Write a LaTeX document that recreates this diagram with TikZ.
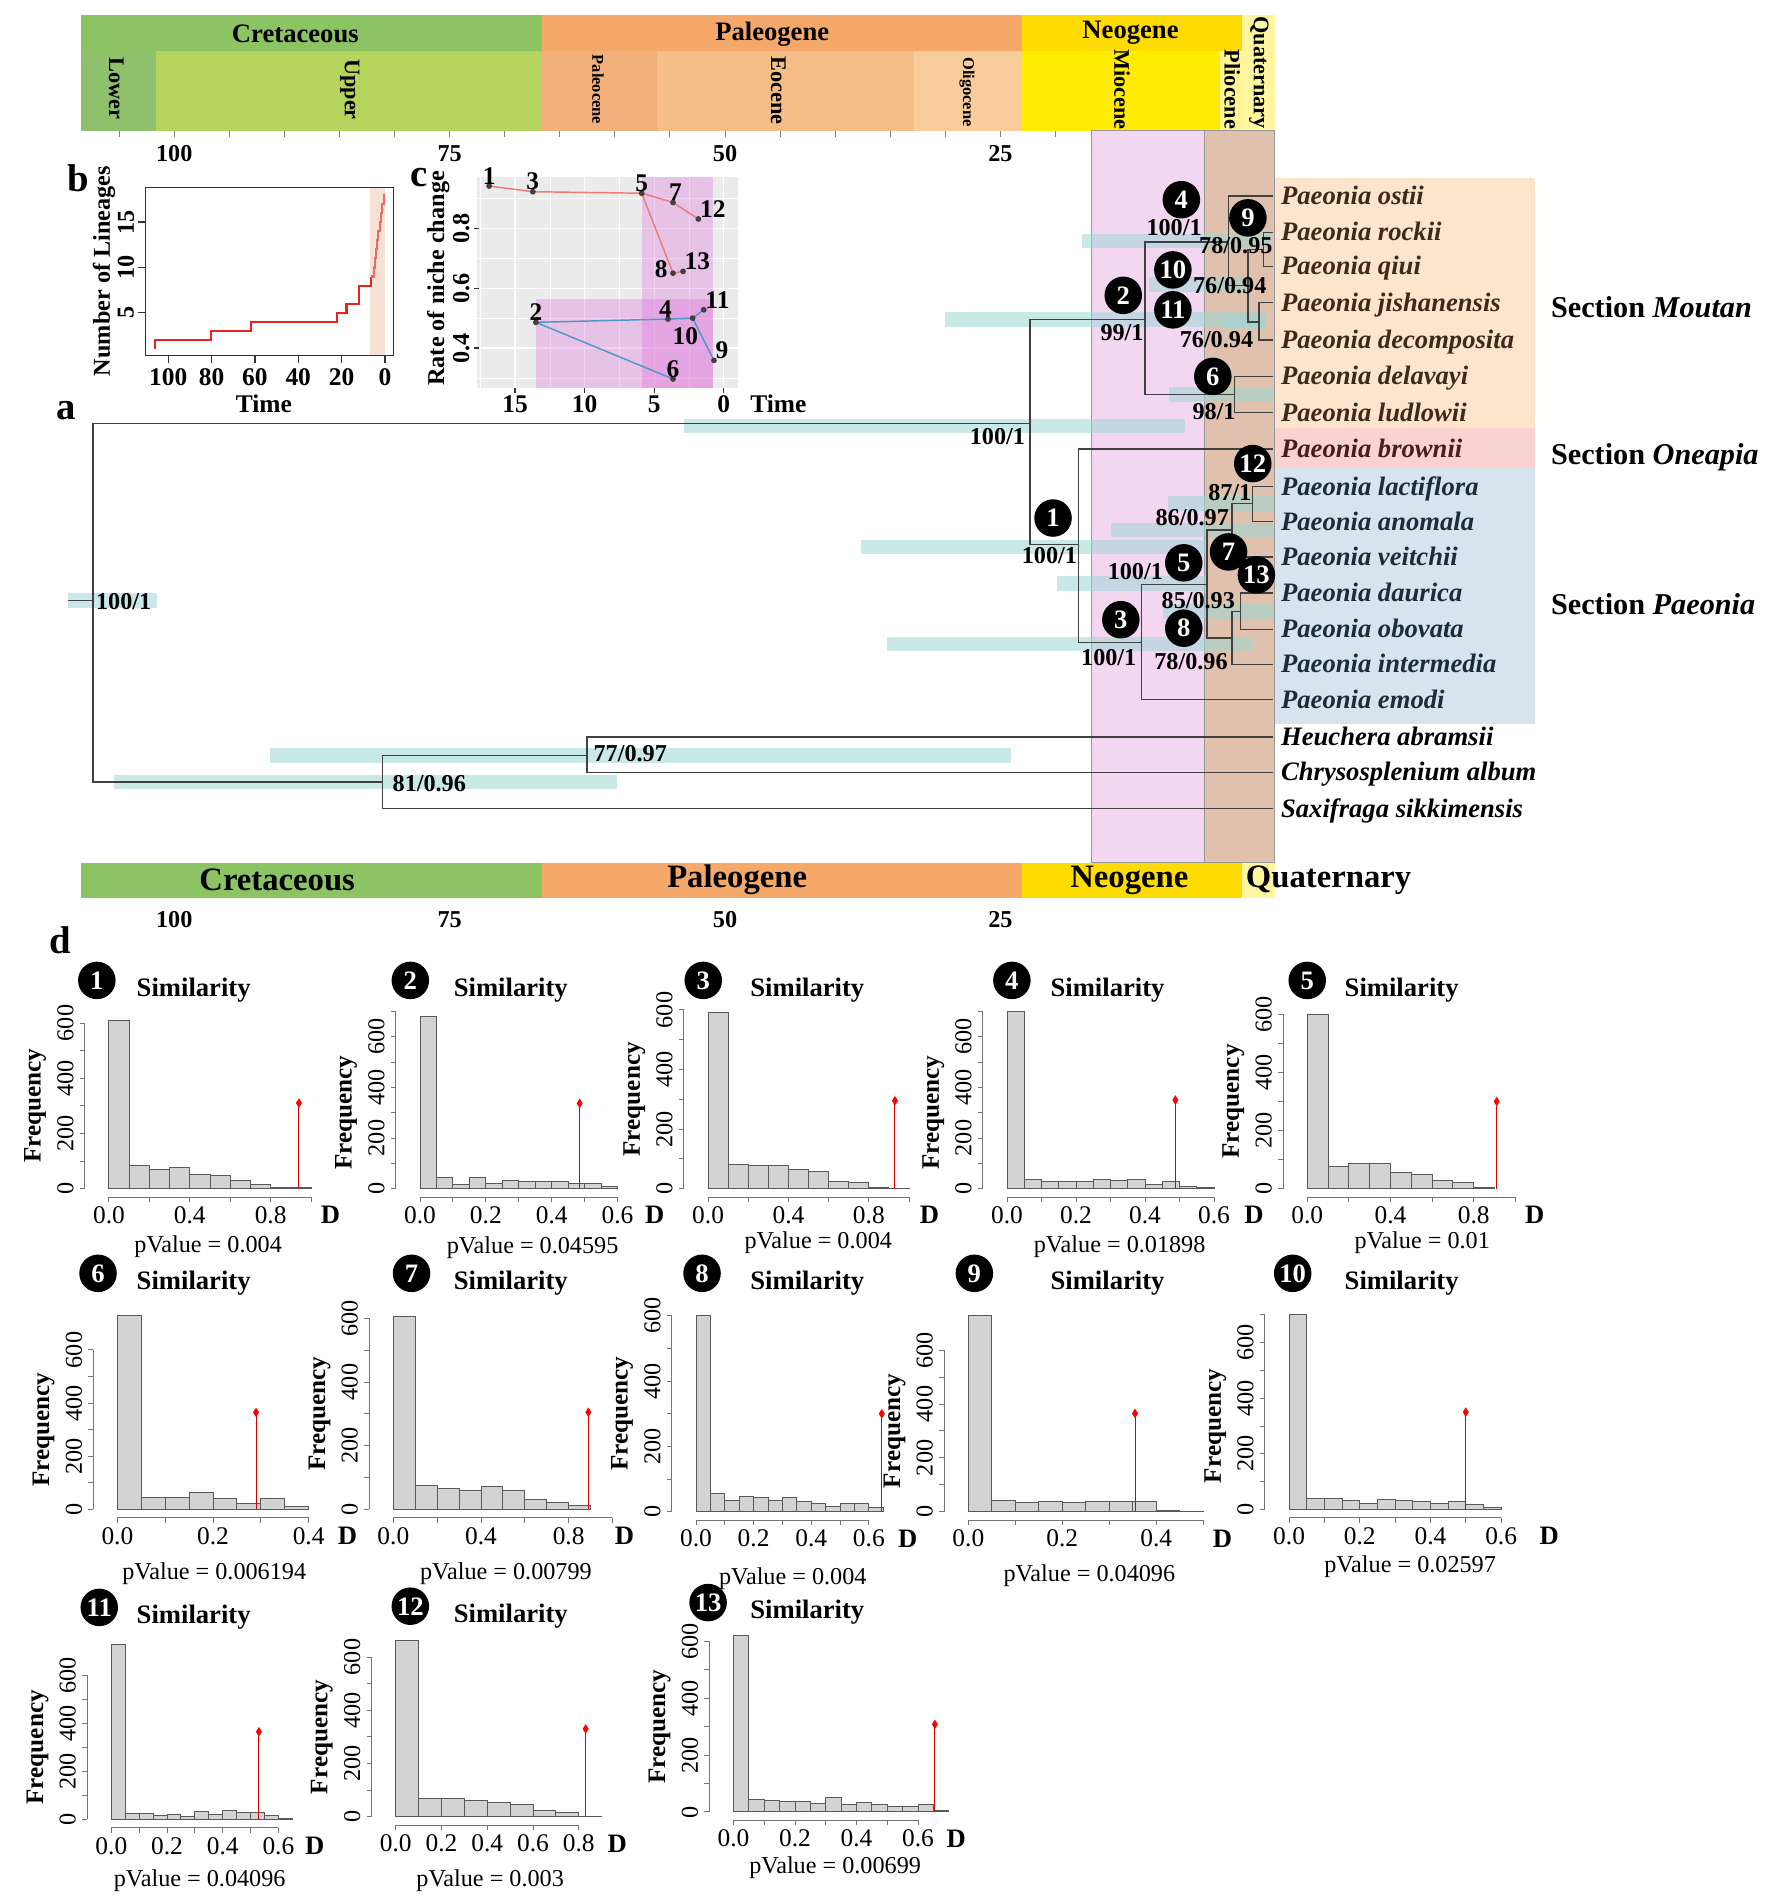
\documentclass[tikz,border=0pt]{standalone}
\usepackage{fontspec}
\setmainfont{Liberation Serif}
\usetikzlibrary{calc}

\newcommand\fsz[1]{\fontsize{#1}{#1}\selectfont}

% colours of the time scale
\definecolor{cretP}{HTML}{8CC463}
\definecolor{cretL}{HTML}{8FC16C}
\definecolor{cretU}{HTML}{B5D45E}
\definecolor{paleoP}{HTML}{F4A86A}
\definecolor{paleoA}{HTML}{F4B07A}
\definecolor{paleoB}{HTML}{F6BE87}
\definecolor{paleoC}{HTML}{F8CD9B}
\definecolor{neoP}{HTML}{FFDC00}
\definecolor{neoA}{HTML}{FFEC00}
\definecolor{neoB}{HTML}{FFF596}
\definecolor{quatP}{HTML}{FFF7A0}
% tree colours
\definecolor{mioband}{HTML}{F3D6F0}
\definecolor{plioband}{HTML}{E0C1AD}
\definecolor{moutanbg}{HTML}{FDE4CD}
\definecolor{oneapiabg}{HTML}{FAD2D2}
\definecolor{paeoniabg}{HTML}{D7E4EE}
\definecolor{moutantx}{HTML}{3E2A1A}
\definecolor{oneapiatx}{HTML}{4A1C1C}
\definecolor{paeoniatx}{HTML}{1C2C3C}
\definecolor{hpd}{HTML}{9ED6D6}
% insets
\definecolor{ltt}{HTML}{E8231C}
\definecolor{lttlight}{HTML}{EE6A5F}
\definecolor{lttshade}{HTML}{F5E1D6}
\definecolor{ggpanel}{HTML}{EBEBEB}
\definecolor{redline}{HTML}{F07A74}
\definecolor{blueline}{HTML}{4F97C6}
\definecolor{nicheshade}{HTML}{DC64DC}
\definecolor{histgray}{HTML}{D3D3D3}

\tikzset{
  perlbl/.style={font=\bfseries\fsz{11}, inner sep=0pt},
  perbig/.style={font=\bfseries\fsz{13.5}, inner sep=0pt},
  epoch/.style={font=\bfseries\fsz{9.2}, rotate=-90, inner sep=0pt},
  epochsm/.style={font=\bfseries\fsz{6.8}, rotate=-90, inner sep=0pt},
  agelbl/.style={font=\bfseries\fsz{10}, inner sep=0pt},
  agetick/.style={draw=black!50, line width=0.4pt},
  band/.style={draw=black!40, line width=0.5pt},
  branch/.style={draw=black!75, line width=0.6pt},
  hpdbar/.style={fill=hpd, fill opacity=0.55},
  bslbl/.style={font=\bfseries\fsz{10}, inner sep=0pt},
  numdot/.style={circle, fill=black, text=white, font=\bfseries\fsz{11}, inner sep=0pt, minimum size=15.5pt},
  taxon/.style={font=\bfseries\itshape\fsz{11}, anchor=base west, inner sep=0pt},
  sectlbl/.style={font=\bfseries\fsz{12.5}, anchor=base west, inner sep=0pt},
  plbl/.style={font=\bfseries\fsz{16}, inner sep=0pt},
  insetlbl/.style={font=\bfseries\fsz{10.5}, inner sep=0pt},
  insetrot/.style={font=\bfseries\fsz{10}, rotate=90, inner sep=0pt},
  framepen/.style={draw=black!80, line width=0.5pt},
  lttcurve/.style={draw=ltt, line width=0.9pt},
  gridmajor/.style={draw=white, line width=0.55pt},
  gridminor/.style={draw=white, line width=0.25pt},
  redniche/.style={draw=redline, line width=0.6pt},
  blueniche/.style={draw=blueline, line width=0.6pt},
  ptlbl/.style={font=\bfseries\fsz{10.5}, inner sep=0.5pt},
  histbar/.style={fill=histgray, draw=black!65, line width=0.4pt},
  histaxis/.style={draw=black!55, line width=0.4pt},
  obsline/.style={draw=red!85!black, line width=0.4pt},
  obsred/.style={fill=red},
  simtitle/.style={font=\bfseries\fsz{11}, inner sep=0pt},
  pval/.style={font=\fsz{10}, inner sep=0pt},
  ticklbl/.style={font=\fsz{10.5}, inner sep=0pt},
  dlbl/.style={font=\bfseries\fsz{11}, inner sep=0pt},
  freqlbl/.style={font=\bfseries\fsz{10.4}, rotate=90, inner sep=0pt},
  freqnum/.style={font=\fsz{10}, rotate=90, inner sep=0pt},
}

% heading of one histogram: number, dot x, title y, title x, p x, p y, p value
\newcommand\histhead[7]{%
  \xdef\hid{#1}%
  \node[numdot] (hd#1) at (#2,{#3-8}) {#1};
  \node[simtitle] (st#1) at (#4,#3) {Similarity};
  \node[pval] (pv#1) at (#5,#6) {pValue = #7};
}
% bars: x0, y0, x per unit D, y per count, bin width, counts, observed D, its height
\newcommand\histbars[8]{%
  \foreach \hh [count=\ii from 0] in {#6}
    \draw[histbar] ({#1+\ii*#5*#3},#2) rectangle ({#1+(\ii+1)*#5*#3},{#2-\hh*#4});
  \draw[obsline] ({#1+#7*#3},#2) -- ({#1+#7*#3},{#2-#8*#4});
  \fill[obsred] ({#1+#7*#3},{#2-#8*#4-4}) -- ++(2.5,4) -- ++(-2.5,4) -- ++(-2.5,-4) -- cycle;
}
% axes: [top count] x0, y0, x per unit D, y per count, D max, tick step, tick labels, x of D
\newcommand\histaxes[9][600]{%
  \pgfmathtruncatemacro\ntk{round(#6/#7)}%
  \pgfmathtruncatemacro\nyt{#1/100}%
  \draw[histaxis] (#2,{#3+7}) -- ({#2+#6*#4},{#3+7});
  \foreach \kk in {0,...,\ntk} \draw[histaxis] ({#2+\kk*#7*#4},{#3+7}) -- ++(0,4);
  \foreach \lab [count=\jj] in {#8} \node[ticklbl] (xt\hid-\jj) at ({#2+\lab*#4},{#3+22}) {\lab};
  \draw[histaxis] ({#2-20},#3) -- ({#2-20},{#3-#1*#5});
  \foreach \kk in {0,...,\nyt} \draw[histaxis] ({#2-20},{#3-\kk*100*#5}) -- ++(-4,0);
  \foreach \cnt in {0,200,400,600} \node[freqnum] (yt\hid-\cnt) at ({#2-36},{#3-\cnt*#5}) {\cnt};
  \node[dlbl] (dl\hid) at (#9,{#3+22}) {D};
  \node[freqlbl] (fq\hid) at ({#2-61},{#3-300*#5}) {Frequency};
}

\begin{document}
\begin{tikzpicture}[x=0.5pt,y=-0.5pt]
\useasboundingbox (0,0) rectangle (1464,1571.4);
\fill[white] (0,0) rectangle (1464,1571.4);

% ---------- time scale, top
\fill[cretP] (67,12) rectangle (448,42);
\fill[paleoP] (448,12) rectangle (844,42);
\fill[neoP] (844,12) rectangle (1026,42);
\fill[cretL] (67,42) rectangle (128.6,108);
\fill[cretU] (128.6,42) rectangle (448,108);
\fill[paleoA] (448,42) rectangle (543,108);
\fill[paleoB] (543,42) rectangle (755,108);
\fill[paleoC] (755,42) rectangle (844,108);
\fill[neoA] (844,42) rectangle (1008,108);
\fill[neoB] (1008,42) rectangle (1026,108);
\fill[quatP] (1026,12) rectangle (1053,108);
\node[perlbl] (cretT) at (244,28) {Cretaceous};
\node[perlbl] (paleoT) at (638,28) {Paleogene};
\node[perlbl] (neoT) at (934,27) {Neogene};
\node[epoch] (lowerT) at (96,73) {Lower};
\node[epoch] (upperT) at (289,74) {Upper};
\node[epochsm] (paleocT) at (494,74) {Paleocene};
\node[epoch] (eoceT) at (643,75) {Eocene};
\node[epochsm] (oligoT) at (799,76) {Oligocene};
\node[epoch] (mioT) at (927,74) {Miocene};
\node[epoch] (plioT) at (1018,74) {Pliocene};
\node[epoch] (quatT) at (1040,60) {Quaternary};
\foreach \tk in {20,25,...,105} \draw[agetick] ({1054-9.1*\tk},108) -- ++(0,5);
\foreach \tk in {100,75,50,25} \node[agelbl] (agt\tk) at ({1054-9.1*\tk},127) {\tk};

% ---------- shaded windows and sections
\filldraw[band, fill=mioband] (902,108) rectangle (995,713);
\filldraw[band, fill=plioband] (995,108) rectangle (1053,713);
\fill[moutanbg] (1053,147) rectangle (1268,354);
\fill[oneapiabg] (1053,354) rectangle (1268,387);
\fill[paeoniabg] (1053,387) rectangle (1268,598);

% ---------- 95% HPD bars
\foreach \xa/\xb/\yc in {56/130/496, 565/979/352, 781/1046/264, 894/1050/199,
    949/1030/235, 1010/1046/266, 966/1052/326, 711/996/452, 965/1052/416,
    918/1052/438, 873/997/482, 961/1052/505, 733/1035/532, 223/835/624, 94/510/646}
  \fill[hpdbar] ({\xa},{\yc-6}) rectangle ({\xb},{\yc+6});

% ---------- tree
\coordinate (stem) at (56,496);
\coordinate (root) at (77,496);
\coordinate (crown) at (851,350);
\coordinate (mou) at (946,264);
\coordinate (nF) at (1015,200);
\coordinate (nG) at (1031,236);
\coordinate (nH) at (1044,206);
\coordinate (nI) at (1040,266);
\coordinate (nJ) at (1020,326);
\coordinate (n1) at (891,450);
\coordinate (n3) at (943,531);
\coordinate (nA) at (997,483);
\coordinate (nB) at (1018,438);
\coordinate (nC) at (1035,416);
\coordinate (nD) at (1018,527);
\coordinate (nE) at (1025,505);
\coordinate (og1) at (316,646);
\coordinate (og2) at (485,624);

\foreach \n/\y/\nm/\cl in {
  1/162/Paeonia ostii/moutantx, 2/192/Paeonia rockii/moutantx,
  3/220/Paeonia qiui/moutantx, 4/250/Paeonia jishanensis/moutantx,
  5/281/Paeonia decomposita/moutantx, 6/311/Paeonia delavayi/moutantx,
  7/341/Paeonia ludlowii/moutantx, 8/371/Paeonia brownii/oneapiatx,
  9/402/Paeonia lactiflora/paeoniatx, 10/431/Paeonia anomala/paeoniatx,
  11/460/Paeonia veitchii/paeoniatx, 12/490/Paeonia daurica/paeoniatx,
  13/520/Paeonia obovata/paeoniatx, 14/549/Paeonia intermedia/paeoniatx,
  15/578/Paeonia emodi/paeoniatx, 16/609/Heuchera abramsii/black,
  17/638/Chrysosplenium album/black, 18/668/Saxifraga sikkimensis/black}
{
  \coordinate (t\n) at (1052,\y);
  \node[taxon, text=\cl] (sp\n) at (1058,{\y+7}) {\nm};
}

\draw[branch] (stem) -- (root);
\foreach \a/\b in {root/crown, root/og1, crown/mou, crown/n1, mou/nF, mou/nJ,
    nF/t1, nF/nG, nG/nH, nG/nI, nH/t2, nH/t3, nI/t4, nI/t5, nJ/t6, nJ/t7,
    n1/t8, n1/n3, n3/nA, n3/t15, nA/nB, nA/nD, nB/nC, nB/t11, nC/t9, nC/t10,
    nD/nE, nD/t14, nE/t12, nE/t13, og1/og2, og1/t18, og2/t16, og2/t17}
  \draw[branch] (\a) |- (\b);

% support values
\node[bslbl, anchor=west] (bsroot) at (79,497) {100/1};
\node[bslbl] (bscrown) at (824,361) {100/1};
\node[bslbl] (bsn1) at (867,459) {100/1};
\node[bslbl] (bsmou) at (927,275) {99/1};
\node[bslbl] (bsF) at (970,188) {100/1};
\node[bslbl] (bsH) at (1021,203) {78/0.95};
\node[bslbl] (bsG) at (1016,236) {76/0.94};
\node[bslbl] (bsI) at (1005,281) {76/0.94};
\node[bslbl] (bsJ) at (1003,340) {98/1};
\node[bslbl] (bsC) at (1016,407) {87/1};
\node[bslbl] (bsB) at (985,428) {86/0.97};
\node[bslbl] (bsA) at (938,472) {100/1};
\node[bslbl] (bsE) at (990,496) {85/0.93};
\node[bslbl] (bsD) at (984,547) {78/0.96};
\node[bslbl] (bs3) at (916,543) {100/1};
\node[bslbl, anchor=west] (bsog2) at (490,623) {77/0.97};
\node[bslbl, anchor=west] (bsog1) at (324,647) {81/0.96};

% node numbers
\foreach \nm/\x/\y in {1/870/428, 2/928/244, 3/926/512, 4/976/165, 5/978/465,
    6/1002/311, 7/1015/456, 8/978/519, 9/1031/180, 10/969/223, 11/969/256,
    12/1035/383, 13/1038/475}
  \node[numdot] (nd\nm) at (\x,\y) {\nm};

\node[sectlbl] (secM) at (1281,262) {Section \textit{Moutan}};
\node[sectlbl] (secO) at (1281,384) {Section \textit{Oneapia}};
\node[sectlbl] (secP) at (1281,508) {Section \textit{Paeonia}};

% ---------- time scale, bottom
\fill[cretP] (67,713) rectangle (448,742);
\fill[paleoP] (448,713) rectangle (844,742);
\fill[neoP] (844,713) rectangle (1026,742);
\fill[quatP] (1026,713) rectangle (1053,742);
\node[perbig] (cretB) at (229,727) {Cretaceous};
\node[perbig] (paleoB) at (609,727) {Paleogene};
\node[perbig] (neoB) at (933,727) {Neogene};
\node[perbig, anchor=west] (quatB) at (1029,727) {Quaternary};
\foreach \tk in {100,75,50,25} \node[agelbl] (agb\tk) at ({1054-9.1*\tk},760) {\tk};

\node[plbl] (pa) at (55,339) {a};

% ---------- inset b: lineages through time
\node[plbl] (pb) at (65,147) {b};
\begin{scope}[shift={(318,296)}, x=-0.895pt, y=3.75pt]
  \fill[lttshade] (7,0.27) rectangle (0,18.8);
  \draw[lttcurve] (106,1) -- (106,2) -- (80.3,2) -- (80.3,3) -- (61.8,3) -- (61.8,4)
    -- (22.3,4) -- (22.3,5) -- (17.7,5) -- (17.7,6) -- (12,6) -- (12,8) -- (6.6,8) -- (6.6,9);
  \draw[lttcurve, draw=lttlight] (6.6,9) -- (5,9) -- (5,10) -- (4.6,10) -- (4.6,11) -- (4.2,11)
    -- (4.2,12) -- (3.6,12) -- (3.6,13) -- (3,13) -- (3,14) -- (2.4,14) -- (2.4,15) -- (1.8,15)
    -- (1.8,16) -- (1.2,16) -- (1.2,17) -- (0.5,17) -- (0.5,18) -- (0.1,18);
\end{scope}
\draw[framepen] (120,155) rectangle (325,294);
\foreach \tk in {0,20,...,100} {
  \draw[framepen] ({318-1.79*\tk},294) -- ++(0,6);
  \node[insetlbl] (ltx\tk) at ({318-1.79*\tk},312) {\tk};
}
\foreach \nn in {5,10,15} {
  \draw[framepen] (120,{296-7.5*\nn}) -- ++(-6,0);
  \node[insetrot] (lty\nn) at (104,{296-7.5*\nn}) {\nn};
}
\node[insetrot] (ltyl) at (86,224) {Number of Lineages};
\node[insetlbl] (ltxl) at (218,334) {Time};

% ---------- inset c: rate of niche change
\node[plbl] (pc) at (346,147) {c};
\begin{scope}[shift={(598,386.6)}, x=-5.75pt, y=123.75pt]
  \fill[ggpanel] (17.7,0.267) rectangle (-1.04,0.972);
  \foreach \tk in {17.5,12.5,7.5,2.5} \draw[gridminor] (\tk,0.267) -- (\tk,0.972);
  \foreach \vv in {0.3,0.5,0.7,0.9} \draw[gridminor] (17.7,\vv) -- (-1.04,\vv);
  \foreach \tk in {15,10,5,0} \draw[gridmajor] (\tk,0.267) -- (\tk,0.972);
  \foreach \vv in {0.4,0.6,0.8} \draw[gridmajor] (17.7,\vv) -- (-1.04,\vv);
  \fill[nicheshade, fill opacity=0.3] (5.9,0.267) rectangle (0.8,0.972);
  \fill[nicheshade, fill opacity=0.3] (13.5,0.267) rectangle (0.8,0.563);
  \coordinate (q1) at (16.86,0.941);
  \coordinate (q3) at (13.72,0.922);
  \coordinate (q5) at (5.9,0.917);
  \coordinate (q7) at (3.65,0.886);
  \coordinate (q12) at (1.83,0.831);
  \coordinate (q8) at (3.65,0.65);
  \coordinate (q13) at (2.93,0.656);
  \coordinate (q2) at (13.5,0.486);
  \coordinate (q4) at (4.01,0.497);
  \coordinate (q10) at (2.24,0.5);
  \coordinate (q11) at (1.44,0.528);
  \coordinate (q9) at (0.71,0.359);
  \coordinate (q6) at (3.65,0.297);
  \draw[redniche] (q1) -- (q3) -- (q5) -- (q7) -- (q12);
  \draw[redniche] (q5) -- (q8) -- (q13);
  \draw[blueniche] (q2) -- (q4) -- (q10) -- (q11);
  \draw[blueniche] (q10) -- (q9);
  \draw[blueniche] (q2) -- (q6);
  \foreach \pp in {1,3,5,7,12,8,13,2,4,10,11,9,6}
    \fill[black!75] (q\pp) circle[radius=1.2pt];
  \node[ptlbl, above=0pt] (lq1) at (q1) {1};
  \node[ptlbl, above=0pt] (lq3) at (q3) {3};
  \node[ptlbl, above=0pt] (lq5) at (q5) {5};
  \node[ptlbl, above=0pt, xshift=1pt] (lq7) at (q7) {7};
  \node[ptlbl, above right=0pt] (lq12) at (q12) {12};
  \node[ptlbl, left=1.5pt, yshift=1.5pt] (lq8) at (q8) {8};
  \node[ptlbl, above right=0pt] (lq13) at (q13) {13};
  \node[ptlbl, above=0pt] (lq2) at (q2) {2};
  \node[ptlbl, above=0pt, xshift=-1pt] (lq4) at (q4) {4};
  \node[ptlbl, below=3pt, xshift=-3pt] (lq10) at (q10) {10};
  \node[ptlbl, above right=0pt] (lq11) at (q11) {11};
  \node[ptlbl, above right=0pt] (lq9) at (q9) {9};
  \node[ptlbl, above=0pt] (lq6) at (q6) {6};
\end{scope}
\foreach \vv in {0.4,0.6,0.8} {
  \draw[framepen] (396,{386.6-247.5*\vv}) -- ++(-4,0);
  \node[insetrot] (ncy\vv) at (381,{386.6-247.5*\vv}) {\vv};
}
\foreach \tk in {15,10,5,0} {
  \draw[framepen] ({598-11.5*\tk},320.5) -- ++(0,4);
  \node[insetlbl] (ncx\tk) at ({598-11.5*\tk},334) {\tk};
}
\node[insetrot] (ncyl) at (362,230) {Rate of niche change};
\node[insetlbl] (ncxl) at (643,334) {Time};

% ---------- d: niche similarity tests
\node[plbl] (pd) at (50,777) {d};

\histhead{1}{80}{818}{160}{172}{1030}{0.004}
\histbars{90}{982}{167}{0.228}{0.1}{610,85,70,78,52,48,30,15,5,3}{0.94}{310}
\histaxes{90}{982}{167}{0.228}{1.0}{0.2}{0.0,0.4,0.8}{273}

\histhead{2}{339}{818}{422}{440}{1031}{0.04595}
\histbars{347}{982}{272}{0.209}{0.05}{680,45,18,43,22,33,30,30,30,20,20,10}{0.485}{337}
\histaxes[700]{347}{982}{272}{0.209}{0.6}{0.1}{0.0,0.2,0.4,0.6}{541}

\histhead{3}{581}{818}{667}{676}{1027}{0.004}
\histbars{585}{982}{166}{0.246}{0.1}{590,80,78,78,63,57,25,20,5,2}{0.93}{295}
\histaxes{585}{982}{166}{0.246}{1.0}{0.2}{0.0,0.4,0.8}{768}

\histhead{4}{836}{818}{915}{925}{1030}{0.01898}
\histbars{832}{982}{285}{0.209}{0.05}{700,35,30,30,28,35,32,37,17,27,7,5}{0.488}{350}
\histaxes[700]{832}{982}{285}{0.209}{0.6}{0.1}{0.0,0.2,0.4,0.6}{1036}

\histhead{5}{1080}{818}{1158}{1175}{1027}{0.01}
\histbars{1080}{982}{172}{0.240}{0.1}{600,75,85,85,55,50,27,20,5}{0.91}{300}
\histaxes{1080}{982}{172}{0.240}{1.0}{0.2}{0.0,0.4,0.8}{1268}

\histhead{6}{81}{1060}{160}{177}{1300}{0.006194}
\histbars{97}{1247}{395}{0.2195}{0.05}{728,45,45,62,40,22,40,10}{0.29}{365}
\histaxes{97}{1247}{395}{0.2195}{0.4}{0.1}{0.0,0.2,0.4}{287}

\histhead{7}{340}{1060}{422}{418}{1300}{0.00799}
\histbars{325}{1247}{181}{0.263}{0.1}{607,75,65,60,72,60,30,22,12}{0.89}{305}
\histaxes{325}{1247}{181}{0.263}{1.0}{0.2}{0.0,0.4,0.8}{516}

\histhead{8}{580}{1060}{667}{655}{1304}{0.004}
\histbars{575}{1249}{238}{0.270}{0.05}{600,55,35,48,45,35,45,32,25,15,25,25,12}{0.645}{300}
\histaxes{575}{1249}{238}{0.270}{0.6}{0.1}{0.0,0.2,0.4,0.6}{750}

\histhead{9}{805}{1060}{915}{900}{1302}{0.04096}
\histbars{800}{1249}{388}{0.2226}{0.05}{730,42,35,37,33,38,37,37,5,2}{0.355}{365}
\histaxes{800}{1249}{388}{0.2226}{0.5}{0.1}{0.0,0.2,0.4}{1010}

\histhead{10}{1068}{1060}{1158}{1165}{1294}{0.02597}
\histbars{1065}{1247}{292}{0.2296}{0.05}{700,40,40,33,20,35,32,30,22,28,17,5}{0.5}{350}
\histaxes[700]{1065}{1247}{292}{0.2296}{0.6}{0.1}{0.0,0.2,0.4,0.6}{1280}

\histhead{11}{82}{1336}{160}{165}{1554}{0.04096}
\histbars{92}{1503}{230}{0.198}{0.05}{728,25,22,15,20,10,32,20,38,30,28,15,5}{0.53}{365}
\histaxes{92}{1503}{230}{0.198}{0.6}{0.1}{0.0,0.2,0.4,0.6}{260}

\histhead{12}{339}{1335}{422}{405}{1554}{0.003}
\histbars{327}{1501}{189}{0.220}{0.1}{662,70,68,60,52,48,22,18,3}{0.83}{330}
\histaxes{327}{1501}{189}{0.220}{0.8}{0.2}{0.0,0.2,0.4,0.6,0.8}{510}

\histhead{13}{585}{1332}{667}{690}{1543}{0.00699}
\histbars{606}{1497}{254}{0.235}{0.05}{621,45,42,38,38,30,52,25,35,28,18,20,25,5}{0.655}{308}
\histaxes{606}{1497}{254}{0.235}{0.6}{0.1}{0.0,0.2,0.4,0.6}{790}
\end{tikzpicture}
\end{document}
